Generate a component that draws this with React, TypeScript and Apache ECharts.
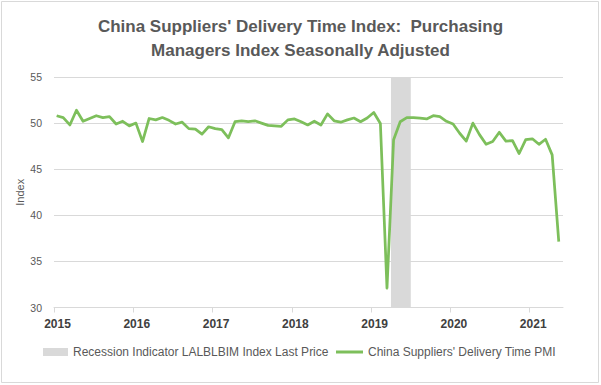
import React, { useEffect, useRef } from 'react';
import * as echarts from 'echarts';

// Monthly observation labels (Jan 2015 .. May 2021)
const months: string[] = [];
for (let y = 2015; y <= 2021; y++) {
  for (let m = 1; m <= 12; m++) {
    if (y === 2021 && m > 5) break;
    months.push(`${y}-${String(m).padStart(2, '0')}`);
  }
}

const pmiValues: number[] = [
  50.8, 50.6, 49.8, 51.4, 50.2, 50.5, 50.8, 50.6, 50.7, 49.9, 50.2, 49.7,
  50.0, 48.0, 50.5, 50.35, 50.6, 50.3, 49.9, 50.1, 49.4, 49.35, 48.8, 49.6,
  49.4, 49.3, 48.4, 50.15, 50.25, 50.15, 50.25, 50.0, 49.75, 49.7, 49.65, 50.35,
  50.45, 50.15, 49.8, 50.2, 49.8, 51.0, 50.25, 50.1, 50.35, 50.55, 50.15, 50.55,
  51.15, 49.95, 32.1, 48.2, 50.15, 50.6, 50.6, 50.55, 50.45, 50.8, 50.7, 50.2,
  49.9, 48.9, 48.05, 50.0, 48.75, 47.7, 48.0, 49.0, 48.05, 48.1, 46.7, 48.2,
  48.3, 47.7, 48.25, 46.55, 37.15,
];

const recessionStart: string[] = ['2019-04'];
const recessionEnd: string[] = ['2019-06'];

const yTicks = { min: 30, max: 55, interval: 5 };
const xRange = { min: 2015, max: 2021.42, interval: 1 };

const pmiName = "China Suppliers' Delivery Time PMI";
const recName = 'Recession Indicator LALBLBIM Index Last Price';
const titleText = "China Suppliers' Delivery Time Index:  Purchasing\nManagers Index Seasonally Adjusted";

const ym = (s: string) => s.split('-').map(Number);
const obsX = (s: string) => { const [y, m] = ym(s); return y + (m - 1 + 0.4) / 12; };
const monthStart = (s: string) => { const [y, m] = ym(s); return y + (m - 1) / 12; };
const monthEnd = (s: string) => { const [y, m] = ym(s); return y + m / 12; };

const SANS = "'Liberation Sans', Arial, sans-serif";

export default function App() {
  const ref = useRef<HTMLDivElement>(null);
  useEffect(() => {
    document.body.style.margin = '0';
    const chart = echarts.init(ref.current!, null, { renderer: 'svg' });
    chart.setOption({
      animation: false,
      backgroundColor: '#ffffff',
      graphic: [
        {
          type: 'rect',
          shape: { x: 1.5, y: 1.5, width: 597, height: 381 },
          style: { fill: 'none', stroke: '#d9d9d9', lineWidth: 1 },
          silent: true,
        },
      ],
      title: {
        text: titleText,
        left: 'center',
        top: 9,
        textStyle: {
          fontFamily: SANS,
          fontSize: 17,
          fontWeight: 'bold',
          color: '#595959',
          lineHeight: 24,
        },
      },
      grid: { left: 54, right: 38, top: 77, bottom: 77.5, containLabel: false },
      legend: [
        {
          data: [{ name: recName, icon: 'rect' }],
          left: 38,
          top: 341,
          itemWidth: 25,
          itemHeight: 8,
          selectedMode: false,
          textStyle: { fontFamily: SANS, fontSize: 12, color: '#595959' },
        },
        {
          data: [{ name: pmiName, icon: 'rect' }],
          left: 331,
          top: 341,
          itemWidth: 27,
          itemHeight: 3,
          selectedMode: false,
          textStyle: { fontFamily: SANS, fontSize: 12, color: '#595959' },
        },
      ],
      xAxis: {
        type: 'value',
        min: xRange.min,
        max: xRange.max,
        interval: xRange.interval,
        axisLine: { show: true, lineStyle: { color: '#d9d9d9', width: 1 } },
        axisTick: { show: true, length: 5, lineStyle: { color: '#d9d9d9' } },
        splitLine: { show: false },
        axisLabel: {
          fontFamily: SANS,
          fontSize: 12,
          fontWeight: 'bold',
          color: '#404040',
          margin: 10,
          padding: [0, 0, 0, 7],
          showMaxLabel: false,
          formatter: (v: number) => String(Math.round(v)),
        },
      },
      yAxis: {
        type: 'value',
        min: yTicks.min,
        max: yTicks.max,
        interval: yTicks.interval,
        name: 'Index',
        nameLocation: 'middle',
        nameGap: 29,
        nameMoveOverlap: false,
        nameRotate: 90,
        nameTextStyle: { fontFamily: SANS, fontSize: 11, color: '#595959' },
        axisLine: { show: false },
        axisTick: { show: false },
        splitLine: { lineStyle: { color: '#d9d9d9', width: 1 } },
        axisLabel: { fontFamily: SANS, fontSize: 10.5, color: '#595959', margin: 12 },
      },
      series: [
        {
          name: recName,
          type: 'line',
          data: [],
          z: 1,
          itemStyle: { color: '#d9d9d9' },
          lineStyle: { color: '#d9d9d9' },
          markArea: {
            silent: true,
            itemStyle: { color: '#d9d9d9' },
            data: recessionStart.map((s, i) => [
              { xAxis: monthStart(s) },
              { xAxis: monthEnd(recessionEnd[i]) },
            ]),
          },
        },
        {
          name: pmiName,
          type: 'line',
          z: 3,
          data: months.map((d, i) => [obsX(d), pmiValues[i]]),
          showSymbol: false,
          symbol: 'none',
          itemStyle: { color: '#7dbf5b' },
          lineStyle: { color: '#7dbf5b', width: 2.75, join: 'round' },
        },
      ],
    });
    return () => chart.dispose();
  }, []);
  return <div ref={ref} style={{ width: 601, height: 385 }} />;
}
